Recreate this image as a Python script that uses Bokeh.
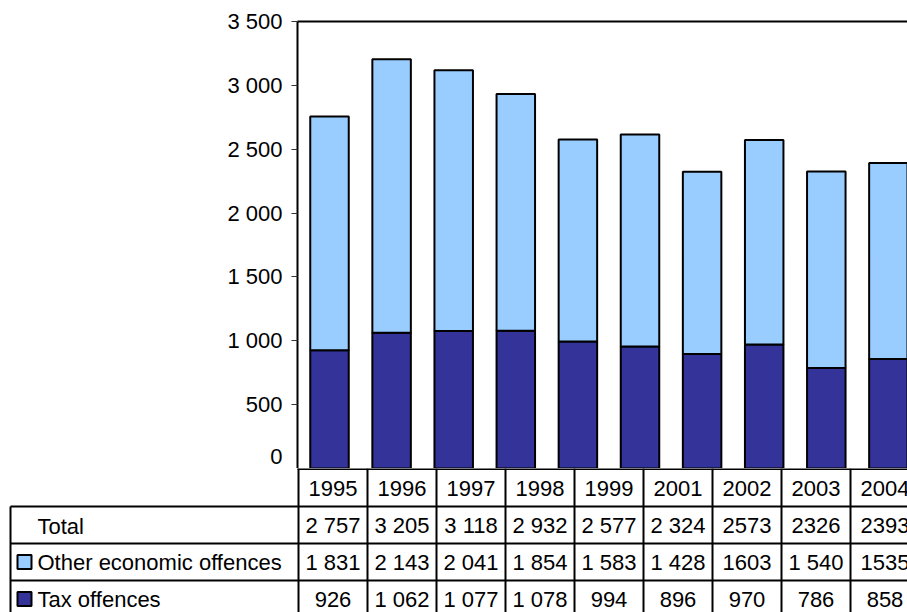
from bokeh.plotting import figure
from bokeh.models import Range1d, FixedTicker, LinearAxis, ColumnDataSource
from bokeh.layouts import column
from bokeh.core.properties import value
from bokeh.embed import file_html
from bokeh.resources import INLINE

# ---- data ----
years = [1995, 1996, 1997, 1998, 1999, 2000, 2001, 2002, 2003, 2004]
tax_offences = [926, 1062, 1077, 1078, 994, 955, 896, 970, 786, 858]
other_offences = [1831, 2143, 2041, 1854, 1583, 1660, 1428, 1603, 1540, 1535]

table_years = ["1995", "1996", "1997", "1998", "1999", "2001", "2002", "2003", "2004"]
table_total = ["2 757", "3 205", "3 118", "2 932", "2 577", "2 324", "2573", "2326", "2393"]
table_other = ["1 831", "2 143", "2 041", "1 854", "1 583", "1 428", "1603", "1 540", "1535"]
table_tax = ["926", "1 062", "1 077", "1 078", "994", "896", "970", "786", "858"]
row_labels = ["Total", "Other economic offences", "Tax offences"]

y_ticks = [0, 500, 1000, 1500, 2000, 2500, 3000, 3500]
y_tick_labels = ["0", "500", "1 000", "1 500", "2 000", "2 500", "3 000", "3 500"]

# ---- styling ----
FONT = value("Liberation Sans")
FSIZE = "22px"
LIGHT = "#99CCFF"
DARK = "#333399"
W = 907
TOP_H = 468
BOT_H = 144
LEFT = 297
CAT_PX = 62.1

frame_w = W - LEFT
x0 = years[0] - 32 / CAT_PX
top = figure(width=W, height=TOP_H,
             x_range=Range1d(x0, x0 + frame_w / CAT_PX),
             y_range=Range1d(0, 3500),
             output_backend="svg", toolbar_location=None,
             x_axis_location=None,
             min_border_left=LEFT, min_border_right=0,
             min_border_top=21, min_border_bottom=0,
             outline_line_color=None)
top.frame_align = False
top.grid.visible = False
yax = top.yaxis[0]
yax.ticker = FixedTicker(ticks=y_ticks)
yax.major_label_overrides = {t: l for t, l in zip(y_ticks, y_tick_labels)}
yax.axis_line_width = 2
yax.axis_line_color = "black"
yax.major_tick_out = 6
yax.major_tick_in = 0
yax.major_tick_line_color = "#333333"
yax.major_tick_line_width = 1
yax.minor_tick_line_color = None
yax.major_label_text_font = "Liberation Sans"
yax.major_label_text_font_size = FSIZE
yax.major_label_text_color = "black"
yax.major_label_standoff = 9

top_axis = LinearAxis(ticker=FixedTicker(ticks=[]), axis_line_width=2,
                      axis_line_color="black", major_tick_out=0,
                      major_tick_in=0, minor_tick_out=0, minor_tick_in=0,
                      major_label_standoff=0)
top.add_layout(top_axis, "above")

src = ColumnDataSource(dict(year=years, tax=tax_offences, other=other_offences))
top.vbar_stack(["tax", "other"], x="year", width=0.62, source=src,
               fill_color=[DARK, LIGHT], line_color="black", line_width=2)

# ---- data table below ----
bot = figure(width=W, height=BOT_H,
             x_range=Range1d(0, W), y_range=Range1d(BOT_H, 0),
             output_backend="svg", toolbar_location=None,
             x_axis_location=None, y_axis_location=None,
             min_border=0, outline_line_color=None)
bot.frame_align = False
bot.grid.visible = False

COL0 = 298
COL_W = 69
ROW_Y = [0, 38, 75, 112, 149]
TABLE_LEFT = 10
ncol = len(table_years)

sx0, sy0, sx1, sy1 = [], [], [], []
# top line of header (continues the chart's base line)
sx0.append(LEFT); sy0.append(0.5); sx1.append(W); sy1.append(0.5)
# horizontal row lines
for yy in ROW_Y[1:]:
    sx0.append(TABLE_LEFT); sy0.append(yy); sx1.append(W); sy1.append(yy)
# column lines
for k in range(ncol + 1):
    xx = COL0 + COL_W * k
    sx0.append(xx); sy0.append(0); sx1.append(xx); sy1.append(BOT_H)
# left border of label column
sx0.append(TABLE_LEFT); sy0.append(ROW_Y[1]); sx1.append(TABLE_LEFT); sy1.append(BOT_H)
bot.segment(x0=sx0, y0=sy0, x1=sx1, y1=sy1, line_color="black", line_width=2)

row_centers = [(ROW_Y[i] + ROW_Y[i + 1]) / 2 for i in range(4)]
cell_x, cell_y, cell_t = [], [], []
for r, vals in enumerate([table_years, table_total, table_other, table_tax]):
    for k, v in enumerate(vals):
        cell_x.append(COL0 + COL_W * k + COL_W / 2)
        cell_y.append(row_centers[r] + 0.5)
        cell_t.append(v)
bot.text(x=cell_x, y=cell_y, text=cell_t, text_align="center",
         text_baseline="middle", text_font=FONT, text_font_size=FSIZE,
         text_color="black")

bot.text(x=[37, 37, 37], y=[row_centers[1] + 1, row_centers[2] + 0.5, row_centers[3]],
         text=row_labels, text_align="left", text_baseline="middle",
         text_font=FONT, text_font_size=FSIZE, text_color="black")

bot.rect(x=[24, 24], y=[row_centers[2], row_centers[3]], width=14, height=14,
         fill_color=[LIGHT, DARK], line_color="black", line_width=2)

layout = column(top, bot, spacing=0)
open("out.html", "w").write(file_html(layout, INLINE))
